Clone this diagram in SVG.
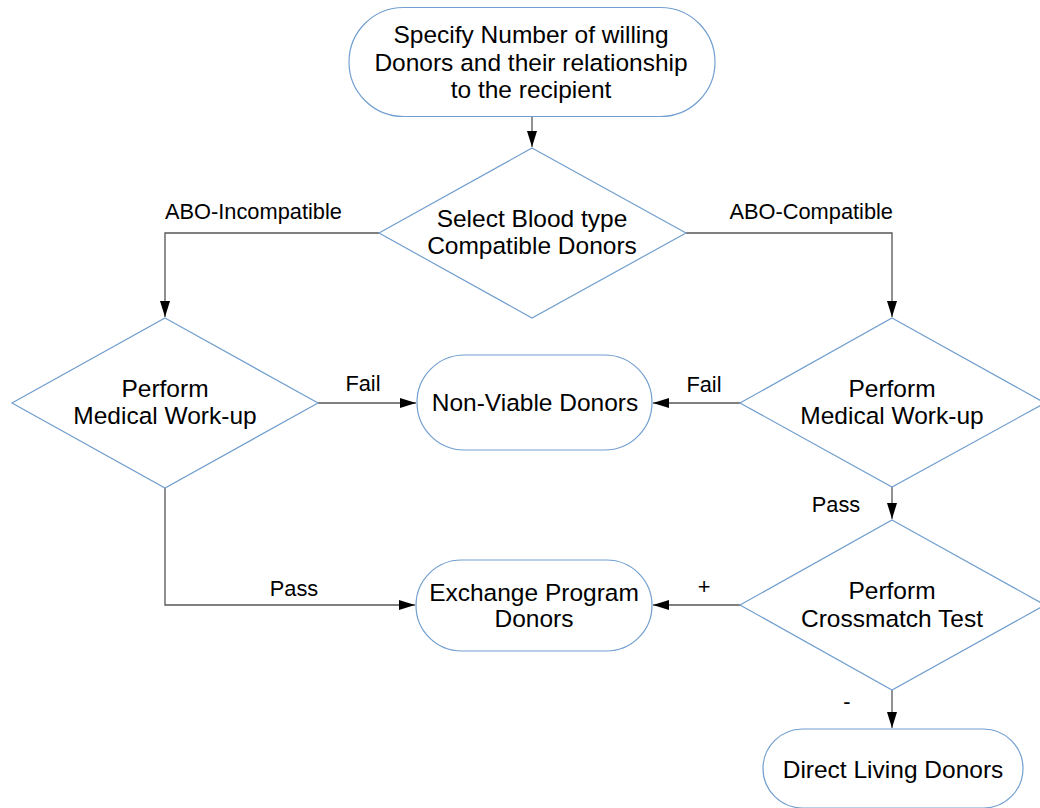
<svg xmlns="http://www.w3.org/2000/svg" width="1040" height="808" viewBox="0 0 1040 808">
<style>
.node{fill:#ffffff;stroke:#729fcf;stroke-width:1.2}
.t{font-family:"Liberation Sans",Arial,sans-serif;font-size:24.5px;fill:#000;text-anchor:middle}
.l{font-family:"Liberation Sans",Arial,sans-serif;font-size:21.8px;fill:#000}
.c{fill:none;stroke:#555555;stroke-width:1.3}
</style>
<defs>
<marker id="ah" markerWidth="16" markerHeight="10" refX="16" refY="5" orient="auto" markerUnits="userSpaceOnUse">
<path d="M0,0 L16,5 L0,10 Z" fill="#000"/>
</marker>
</defs>
<rect width="1040" height="808" fill="#fff"/>
<g id="connectors">
<path class="c" d="M532,117 L532,147" marker-end="url(#ah)"/>
<path class="c" d="M379,233 L165,233 L165,317" marker-end="url(#ah)"/>
<path class="c" d="M686,233 L892,233 L892,317" marker-end="url(#ah)"/>
<path class="c" d="M318,403 L416,403" marker-end="url(#ah)"/>
<path class="c" d="M740,403 L653,403" marker-end="url(#ah)"/>
<path class="c" d="M892,487 L892,519" marker-end="url(#ah)"/>
<path class="c" d="M165,488 L165,605 L415,605" marker-end="url(#ah)"/>
<path class="c" d="M740,605 L653,605" marker-end="url(#ah)"/>
<path class="c" d="M892,690 L892,728" marker-end="url(#ah)"/>
<text class="l" x="165" y="219">ABO-Incompatible</text>
<text class="l" x="893" y="219" text-anchor="end">ABO-Compatible</text>
<text class="l" x="363" y="391" text-anchor="middle">Fail</text>
<text class="l" x="704" y="392" text-anchor="middle">Fail</text>
<text class="l" x="294" y="596" text-anchor="middle">Pass</text>
<text class="l" x="836" y="512" text-anchor="middle">Pass</text>
<text class="l" x="704" y="594" text-anchor="middle">+</text>
<text class="l" x="847" y="709" text-anchor="middle">-</text>
</g>
<g id="start">
<rect class="node" x="349" y="7.5" width="366" height="109" rx="54.5" ry="54.5"/>
<text class="t" x="531" y="43">Specify Number of willing</text>
<text class="t" x="531" y="71">Donors and their relationship</text>
<text class="t" x="531" y="98">to the recipient</text>
</g>
<g id="blood-type">
<polygon class="node" points="532,148 686,233 532,318 379,233"/>
<text class="t" x="532" y="227">Select Blood type</text>
<text class="t" x="532" y="254">Compatible Donors</text>
</g>
<g id="workup-left">
<polygon class="node" points="165,318 318,403 165,488 12,403"/>
<text class="t" x="165" y="397">Perform</text>
<text class="t" x="165" y="424">Medical Work-up</text>
</g>
<g id="workup-right">
<polygon class="node" points="892,318 1045,403 892,487 740,403"/>
<text class="t" x="892" y="397">Perform</text>
<text class="t" x="892" y="424">Medical Work-up</text>
</g>
<g id="non-viable">
<rect class="node" x="417" y="355" width="235" height="95" rx="47.5" ry="47.5"/>
<text class="t" x="535" y="411">Non-Viable Donors</text>
</g>
<g id="exchange">
<rect class="node" x="416" y="560" width="236" height="91" rx="45.5" ry="45.5"/>
<text class="t" x="534" y="601">Exchange Program</text>
<text class="t" x="534" y="627">Donors</text>
</g>
<g id="crossmatch">
<polygon class="node" points="892,520 1045,605 892,690 740,605"/>
<text class="t" x="892" y="599">Perform</text>
<text class="t" x="892" y="627">Crossmatch Test</text>
</g>
<g id="direct">
<rect class="node" x="763" y="729" width="260" height="79" rx="39.5" ry="39.5"/>
<text class="t" x="893" y="778">Direct Living Donors</text>
</g>
</svg>
